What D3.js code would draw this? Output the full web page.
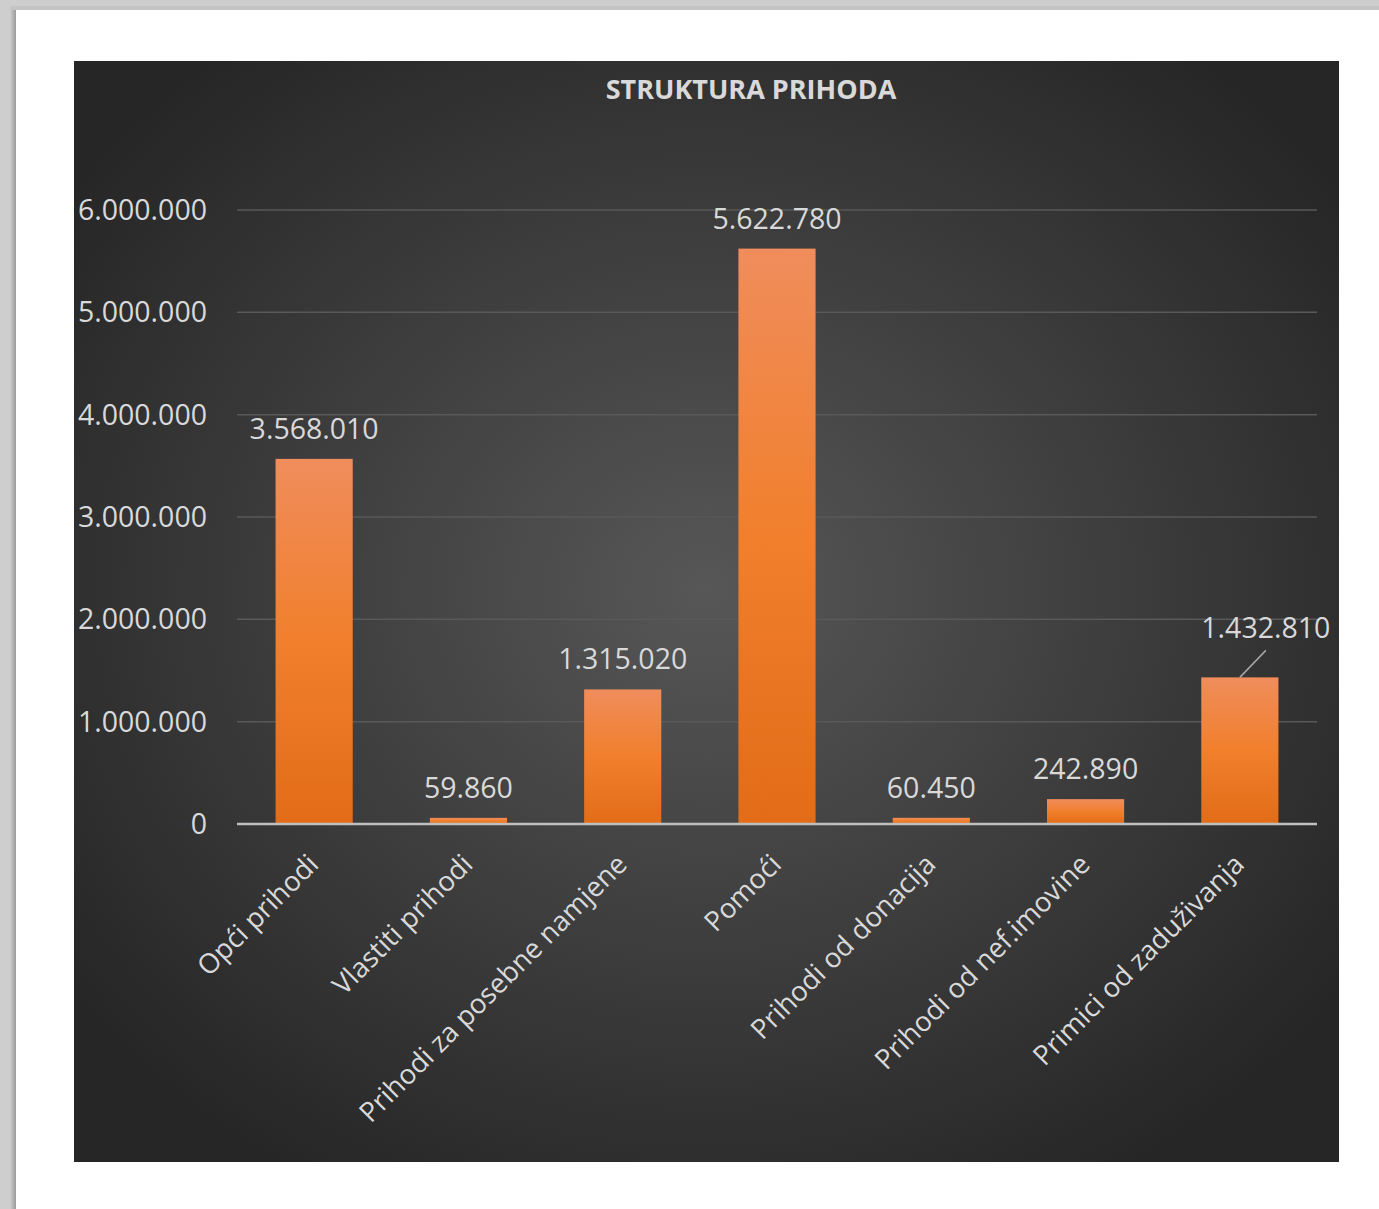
<!DOCTYPE html>
<html>
<head>
<meta charset="utf-8">
<script src="https://cdn.jsdelivr.net/npm/d3@7"></script>
<style>
  body { margin: 0; background: #cdcecd; }
  svg { display: block; }
</style>
</head>
<body>
<script>
var categories = ["Opći prihodi", "Vlastiti prihodi", "Prihodi za posebne namjene", "Pomoći",
                  "Prihodi od donacija", "Prihodi od nef.imovine", "Primici od zaduživanja"];
var values = [3568010, 59860, 1315020, 5622780, 60450, 242890, 1432810];
var yTicks = [0, 1000000, 2000000, 3000000, 4000000, 5000000, 6000000];
var title = "STRUKTURA PRIHODA";

var W = 1379, H = 1209;
var svg = d3.select("body").append("svg").attr("width", W).attr("height", H);
var defs = svg.append("defs");

// page shadow + white page
var sh = defs.append("linearGradient").attr("id", "shadow").attr("x1", 0).attr("x2", 1);
sh.append("stop").attr("offset", 0).attr("stop-color", "#cdcecd");
sh.append("stop").attr("offset", 1).attr("stop-color", "#9a9a9a");
svg.append("rect").attr("x", 10).attr("y", 6).attr("width", 6).attr("height", H).attr("fill", "url(#shadow)");
svg.append("rect").attr("x", 12).attr("y", 6).attr("width", W).attr("height", 4).attr("fill", "#c4c4c4");
svg.append("rect").attr("x", 16).attr("y", 10).attr("width", W).attr("height", H).attr("fill", "#ffffff");

// chart background
var bg = defs.append("radialGradient").attr("id", "bg")
  .attr("cx", "50%").attr("cy", "48%").attr("r", "62%");
bg.append("stop").attr("offset", 0).attr("stop-color", "#575757");
bg.append("stop").attr("offset", 1).attr("stop-color", "#262626");
var cx0 = 74, cy0 = 61, cw = 1265, ch = 1101;
svg.append("rect").attr("x", cx0).attr("y", cy0).attr("width", cw).attr("height", ch).attr("fill", "url(#bg)");

var barGrad = defs.append("linearGradient").attr("id", "bar").attr("x1", 0).attr("x2", 0).attr("y1", 0).attr("y2", 1);
barGrad.append("stop").attr("offset", 0).attr("stop-color", "#f08d5c");
barGrad.append("stop").attr("offset", 0.5).attr("stop-color", "#f17f2c");
barGrad.append("stop").attr("offset", 1).attr("stop-color", "#e26c18");

var font = "'Open Sans', 'DejaVu Sans', sans-serif";
var plotLeft = 237, plotRight = 1317, plotTop = 210, plotBottom = 824;

var x = d3.scaleBand().domain(categories).range([plotLeft, plotRight]).paddingInner(0.5).paddingOuter(0.25);
var y = d3.scaleLinear().domain([0, 6000000]).range([plotBottom, plotTop]);

var fmt = function(v) { return d3.format(",")(v).replace(/,/g, "."); };

// title
svg.append("text").attr("x", 751).attr("y", 99).attr("text-anchor", "middle")
  .attr("font-family", font).attr("font-weight", "bold").attr("font-size", 27)
  .attr("fill", "#d9d9d9").text(title);

// gridlines
svg.selectAll(".grid").data(yTicks.slice(1)).enter().append("line")
  .attr("x1", plotLeft).attr("x2", plotRight)
  .attr("y1", function(d) { return y(d); }).attr("y2", function(d) { return y(d); })
  .attr("stroke", "#595959").attr("stroke-width", 1.5);

// y tick labels
svg.selectAll(".ytick").data(yTicks).enter().append("text")
  .attr("x", 207).attr("y", function(d) { return y(d) + 10; })
  .attr("text-anchor", "end").attr("font-family", font).attr("font-size", 28.5)
  .attr("fill", "#d9d9d9").text(fmt);

// bars
svg.selectAll(".bar").data(values).enter().append("rect")
  .attr("x", function(d, i) { return x(categories[i]); })
  .attr("y", function(d) { return y(d); })
  .attr("width", x.bandwidth())
  .attr("height", function(d) { return plotBottom - y(d); })
  .attr("fill", "url(#bar)");

// axis line
svg.append("line").attr("x1", plotLeft).attr("x2", plotRight).attr("y1", plotBottom).attr("y2", plotBottom)
  .attr("stroke", "#bfbfbf").attr("stroke-width", 2.5);

// value labels
svg.selectAll(".val").data(values).enter().append("text")
  .attr("x", function(d, i) { return x(categories[i]) + x.bandwidth() / 2 + (i === 6 ? 26 : 0); })
  .attr("y", function(d, i) { return y(d) - (i === 6 ? 39 : 20); })
  .attr("text-anchor", "middle").attr("font-family", font).attr("font-size", 28.5)
  .attr("fill", "#d9d9d9").text(fmt);

// leader line for last label
var li = 6, lx = x(categories[li]) + x.bandwidth() / 2;
svg.append("line").attr("x1", lx).attr("y1", y(values[li])).attr("x2", lx + 26).attr("y2", y(values[li]) - 27)
  .attr("stroke", "#a6a6a6").attr("stroke-width", 1.5);

// category labels
svg.selectAll(".cat").data(categories).enter().append("text")
  .attr("transform", function(d) {
    return "translate(" + (x(d) + x.bandwidth() / 2 + 6) + "," + (plotBottom + 42) + ") rotate(-45)";
  })
  .attr("text-anchor", "end").attr("font-family", font).attr("font-size", 27.5)
  .attr("fill", "#d9d9d9").text(function(d) { return d; });
</script>
</body>
</html>
